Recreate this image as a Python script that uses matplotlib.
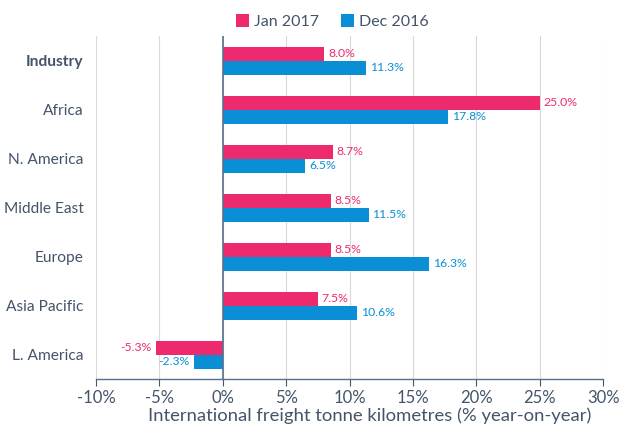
import matplotlib.pyplot as plt
import numpy as np

plt.rcParams['font.family'] = ['Lato', 'DejaVu Sans']

regions = ['Industry', 'Africa', 'N. America', 'Middle East', 'Europe', 'Asia Pacific', 'L. America']
jan_2017 = [8.0, 25.0, 8.7, 8.5, 8.5, 7.5, -5.3]
dec_2016 = [11.3, 17.8, 6.5, 11.5, 16.3, 10.6, -2.3]
xticks = [-10, -5, 0, 5, 10, 15, 20, 25, 30]

pink = '#EE2A6E'
blue = '#0A8FD6'
txt = '#44546A'

fig = plt.figure(figsize=(6.27, 4.26), dpi=100)
ax = fig.add_axes([0.153, 0.110, 0.809, 0.805])

y = np.arange(len(regions))
h = 0.285
ax.barh(y - h/2, jan_2017, height=h, color=pink, label='Jan 2017', zorder=3)
ax.barh(y + h/2, dec_2016, height=h, color=blue, label='Dec 2016', zorder=3)

for i in range(len(regions)):
    for v, off, c in [(jan_2017[i], -h/2, pink), (dec_2016[i], h/2, blue)]:
        if v >= 0:
            ax.text(v + 0.3, y[i] + off, f'{v:.1f}%', color=c, fontsize=8.8, va='center', ha='left')
        else:
            ax.text(v - 0.3, y[i] + off, f'{v:.1f}%', color=c, fontsize=8.8, va='center', ha='right')

ax.set_xlim(-10, 30)
ax.set_ylim(len(regions) - 0.5, -0.5)
ax.set_xticks(xticks)
ax.set_xticklabels([f'{t}%' for t in xticks])
ax.set_yticks(y)
ax.set_yticklabels(regions)
ax.get_yticklabels()[0].set_fontweight('bold')
ax.get_yticklabels()[0].set_fontsize(12)
ax.tick_params(axis='x', colors=txt, labelsize=12, length=5, color=txt, pad=3)
ax.tick_params(axis='y', colors=txt, labelsize=11.2, length=0, pad=9)
ax.grid(axis='x', color='#D9D9D9', lw=0.8, zorder=0)
ax.axvline(0, color='#5A6F8E', lw=1.2, zorder=4)
for s in ['top', 'right', 'left']:
    ax.spines[s].set_visible(False)
ax.spines['bottom'].set_color('#5A6F8E')
ax.spines['bottom'].set_linewidth(1.0)
ax.set_xlabel('International freight tonne kilometres (% year-on-year)', color=txt, fontsize=13.3)
ax.xaxis.set_label_coords(0.54, -0.082)

leg = fig.legend(loc='upper center', bbox_to_anchor=(0.53, 1.0), ncol=2, frameon=False,
                 fontsize=11.5, handlelength=0.8, handleheight=0.8, handletextpad=0.3, columnspacing=1.4)
for t in leg.get_texts():
    t.set_color(txt)

fig.savefig('out.png', dpi=100)
